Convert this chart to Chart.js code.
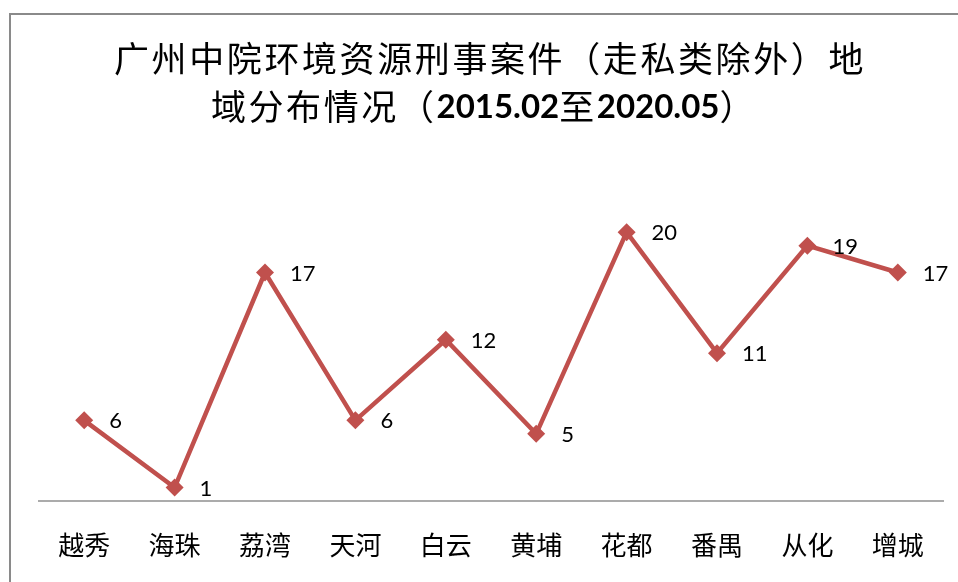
<!DOCTYPE html>
<html>
<head>
<meta charset="utf-8">
<script src="https://cdn.jsdelivr.net/npm/chart.js@4"></script>
<style>
  html, body { margin: 0; padding: 0; background: #fff; overflow: hidden; }
  #wrap { position: relative; width: 958px; height: 582px; }
  #frame { position: absolute; left: 9px; top: 13px; width: 1000px; height: 1000px;
           border-left: 2px solid #8a8a8a; border-top: 2px solid #8a8a8a; pointer-events: none; }
  canvas { position: absolute; left: 0; top: 0; }
</style>
</head>
<body>
<div id="wrap">
  <canvas id="c" width="958" height="582"></canvas>
  <div id="frame"></div>
</div>
<script>
const categories = ['越秀', '海珠', '荔湾', '天河', '白云', '黄埔', '花都', '番禺', '从化', '增城'];
const caseCounts = [6, 1, 17, 6, 12, 5, 20, 11, 19, 17];
const titleLine1 = [['广州中院环境资源刑事案件（走私类除外）地', false]];
const titleLine2 = [['域分布情况（', false], ['2015.02', true], ['至', false], ['2020.05', true], ['）', false]];

const LINE_COLOR = '#c0504d';
const CJK = '"Noto Sans CJK SC", "Noto Sans", sans-serif';
const LAT = 'Lato, "Open Sans", sans-serif';

const titlePlugin = {
  id: 'mixedTitle',
  afterDraw(chart) {
    const ctx = chart.ctx;
    ctx.save();
    ctx.fillStyle = '#000';
    ctx.textBaseline = 'middle';
    ctx.textAlign = 'left';
    const fontFor = (bold) => bold ? ('bold 33px ' + LAT) : ('35px ' + CJK);
    const spacingFor = (bold) => bold ? '0px' : '2.6px';
    const drawLine = (segs, cx, cy) => {
      let total = 0;
      const widths = segs.map(([t, b]) => {
        ctx.font = fontFor(b);
        ctx.letterSpacing = spacingFor(b);
        const w = ctx.measureText(t).width;
        total += w;
        return w;
      });
      let x = cx - total / 2;
      segs.forEach(([t, b], i) => {
        ctx.font = fontFor(b);
        ctx.letterSpacing = spacingFor(b);
        ctx.fillText(t, x, cy);
        x += widths[i];
      });
    };
    drawLine(titleLine1, 490, 59);
    drawLine(titleLine2, 484, 107);
    ctx.restore();
  }
};

const labelPlugin = {
  id: 'pointLabels',
  afterDatasetsDraw(chart) {
    const ctx = chart.ctx;
    const meta = chart.getDatasetMeta(0);
    ctx.save();
    ctx.font = '22px ' + LAT;
    ctx.fillStyle = '#000';
    ctx.textAlign = 'left';
    ctx.textBaseline = 'middle';
    meta.data.forEach((pt, i) => {
      ctx.fillText(String(caseCounts[i]), pt.x + 25, pt.y + 1);
    });
    ctx.restore();
  }
};

new Chart(document.getElementById('c'), {
  type: 'line',
  data: {
    labels: categories,
    datasets: [{
      data: caseCounts,
      borderColor: LINE_COLOR,
      backgroundColor: LINE_COLOR,
      borderWidth: 4.5,
      pointStyle: 'rectRot',
      pointRadius: 9,
      pointBorderWidth: 0,
      pointBackgroundColor: LINE_COLOR,
      tension: 0,
      fill: false
    }]
  },
  options: {
    responsive: false,
    animation: false,
    devicePixelRatio: 1,
    layout: { padding: { left: 39, right: 15, top: 165, bottom: 0 } },
    plugins: {
      legend: { display: false },
      title: { display: false },
      tooltip: { enabled: false }
    },
    scales: {
      x: {
        offset: true,
        grid: { display: false, drawTicks: false },
        border: { display: true, color: '#ababab', width: 2 },
        ticks: { color: '#000', font: { family: CJK, size: 26 }, padding: 29, maxRotation: 0, autoSkip: false },
        afterFit(scale) { scale.height = 81; }
      },
      y: {
        display: false,
        min: 0,
        max: 25
      }
    }
  },
  plugins: [titlePlugin, labelPlugin]
});
</script>
</body>
</html>
